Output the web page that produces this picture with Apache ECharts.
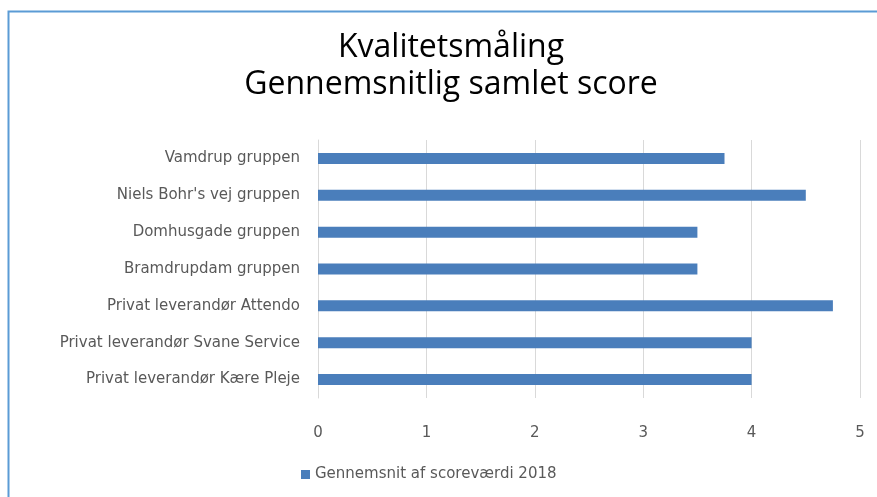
<!DOCTYPE html>
<html>
<head>
<meta charset="utf-8">
<script src="https://cdn.jsdelivr.net/npm/echarts@6/dist/echarts.min.js"></script>
<style>
  html, body { margin: 0; padding: 0; background: #fff; }
  #chart { width: 877px; height: 497px; }
</style>
</head>
<body>
<div id="chart"></div>
<script>
// kategorier (nederst -> øverst, som ECharts tegner category-aksen)
const categories = [
  'Privat leverandør Kære Pleje',
  'Privat leverandør Svane Service',
  'Privat leverandør Attendo',
  'Bramdrupdam gruppen',
  'Domhusgade gruppen',
  "Niels Bohr's vej gruppen",
  'Vamdrup gruppen'
]
const scores2018 = [4, 4, 4.75, 3.5, 3.5, 4.5, 3.75]
const seriesName = 'Gennemsnit af scoreværdi 2018'
const titleLines = ['Kvalitetsmåling', 'Gennemsnitlig samlet score']

const chart = echarts.init(document.getElementById('chart'))

chart.setOption({
  animation: false,
  textStyle: { fontFamily: 'DejaVu Sans' },
  title: {
    text: titleLines.join('\n'),
    left: 446,
    textAlign: 'center',
    top: 24,
    textStyle: {
      fontFamily: 'Open Sans',
      fontWeight: 'normal',
      fontSize: 32,
      lineHeight: 37,
      color: '#000'
    }
  },
  // ramme rundt om diagrammet
  graphic: [
    {
      type: 'polyline',
      shape: { points: [[8.5, 497], [8.5, 11.5], [877, 11.5]] },
      style: { stroke: '#5b9bd5', lineWidth: 2, fill: null }
    }
  ],
  legend: {
    left: 296,
    top: 462,
    itemWidth: 9,
    itemHeight: 9,
    itemGap: 6,
    icon: 'rect',
    textStyle: { fontSize: 15, color: '#595959' },
    data: [seriesName]
  },
  grid: {
    left: 318,
    right: 17,
    top: 140,
    bottom: 99
  },
  xAxis: {
    type: 'value',
    min: 0,
    max: 5,
    interval: 1,
    axisLine: { show: false },
    axisTick: { show: false },
    axisLabel: { fontSize: 15, color: '#595959', margin: 28 },
    splitLine: { lineStyle: { color: '#d9d9d9', width: 1 } }
  },
  yAxis: {
    type: 'category',
    data: categories,
    axisLine: { lineStyle: { color: '#d9d9d9' } },
    axisTick: { show: false },
    axisLabel: { fontSize: 15, color: '#595959', margin: 18 }
  },
  series: [
    {
      name: seriesName,
      type: 'bar',
      data: scores2018,
      barWidth: 11,
      itemStyle: { color: '#4a7ebb' }
    }
  ]
})
</script>
</body>
</html>
